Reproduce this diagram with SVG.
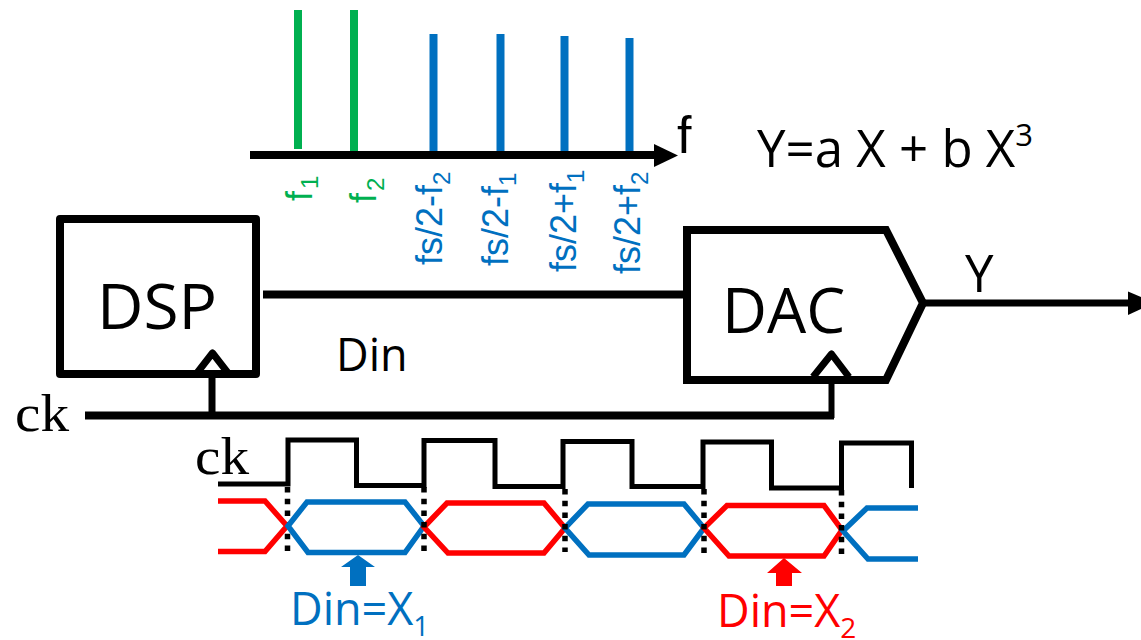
<svg xmlns="http://www.w3.org/2000/svg" width="1141" height="640" viewBox="0 0 1141 640">
<style>
.box{fill:none;stroke:#000;stroke-width:8;stroke-linejoin:round}
.w{fill:none;stroke:#000;stroke-linejoin:miter}
.g{stroke:#00b050;stroke-width:8}
.b{stroke:#0070c0;stroke-width:8}
.blue{fill:none;stroke:#0070c0;stroke-width:5.5}
.red{fill:none;stroke:#ff0000;stroke-width:5.5}
.dot{stroke:#000;stroke-width:5.5;stroke-dasharray:5.5 6.2}
.rl{font-family:"Liberation Sans",Arial,sans-serif;font-size:36px}
.os{font-family:"Open Sans","Noto Sans",sans-serif;fill:#000}
.ser{font-family:"Liberation Serif","Times New Roman",serif;font-size:52px;fill:#000}
</style>
<rect width="1141" height="640" fill="#fff"/>
<g id="spectrum">
<line class="g" x1="298" y1="10" x2="298" y2="149"/>
<line class="g" x1="354" y1="10" x2="354" y2="155"/>
<line class="b" x1="433.500" y1="34" x2="433.500" y2="153"/>
<line class="b" x1="500.500" y1="34" x2="500.500" y2="153.500"/>
<line class="b" x1="564.500" y1="36" x2="564.500" y2="155"/>
<line class="b" x1="629.500" y1="38" x2="629.500" y2="158"/>
<line x1="250" y1="155" x2="656" y2="155" stroke="#000" stroke-width="8"/>
<polygon points="654,144 678,155.500 654,167" fill="#000"/>
<text x="677" y="153" font-family="Liberation Sans,sans-serif" font-size="52" fill="#000">f</text>
<g class="rl" fill="#00b050">
<text transform="translate(312,201) rotate(-90)">f<tspan font-size="24" dy="6" dx="2">1</tspan></text>
<text transform="translate(375.500,203) rotate(-90)">f<tspan font-size="24" dy="8" dx="2">2</tspan></text>
</g>
<g class="rl" fill="#0070c0">
<text transform="translate(442,265) rotate(-90)">fs/2-f<tspan font-size="24" dy="8">2</tspan></text>
<text transform="translate(508,266) rotate(-90)">fs/2-f<tspan font-size="24" dy="8">1</tspan></text>
<text transform="translate(576,272) rotate(-90)">fs/2+f<tspan font-size="24" dy="8">1</tspan></text>
<text transform="translate(639.500,274) rotate(-90)">fs/2+f<tspan font-size="24" dy="8">2</tspan></text>
</g>
</g>
<text id="equation" class="os" x="757" y="167" font-size="51">Y=a X + b X<tspan font-size="31" dy="-21">3</tspan></text>
<g id="connectors">
<line x1="263" y1="294.500" x2="688" y2="294.500" stroke="#000" stroke-width="8"/>
<line x1="85" y1="415.500" x2="834" y2="415.500" stroke="#000" stroke-width="8"/>
<line x1="212" y1="376" x2="212" y2="415" stroke="#000" stroke-width="7"/>
<line x1="831.500" y1="378" x2="831.500" y2="418" stroke="#000" stroke-width="6"/>
<line x1="922" y1="303" x2="1130" y2="303" stroke="#000" stroke-width="7"/>
<polygon points="1128,291.500 1141,297 1141,309 1128,315" fill="#000"/>
</g>
<g id="dsp">
<rect class="box" x="60" y="219" width="196" height="155"/>
<polyline class="box" points="197,373 212.500,353 228,373" style="stroke-width:7"/>
<text class="os" x="97" y="329" font-size="63" textLength="120" lengthAdjust="spacingAndGlyphs">DSP</text>
</g>
<g id="dac">
<polygon class="box" style="stroke-linejoin:miter" points="687,230 886,230 923,303 886,380 687,380"/>
<polyline class="box" points="813,377 831.500,354 849,377" style="stroke-width:7"/>
<text class="os" x="722" y="333" font-size="62">DAC</text>
</g>
<text id="din-label" class="os" x="336" y="371" font-size="45">Din</text>
<text id="y-label" class="os" x="965" y="292" font-size="51">Y</text>
<text id="ck-in" class="ser" x="15" y="431" textLength="54" lengthAdjust="spacingAndGlyphs">ck</text>
<g id="timing">
<text class="ser" x="195" y="474" textLength="54" lengthAdjust="spacingAndGlyphs">ck</text>
<polyline class="w" stroke-width="5" points="218,484 288,484 288,440 356.500,440 356.500,485.500 424,485.500 424,440.500 495,440.500 495,486.500 563,486.500 563,441.500 632,441.500 632,486.500 703,486.500 703,442 771.500,442 771.500,488 841.500,488 841.500,443 911.500,443 911.500,488"/>
<line class="dot" x1="287.500" y1="487" x2="287.500" y2="552"/>
<path class="red" d="M218,501 H265 L287,526 L265,551.500 H218"/>
<polygon class="blue" points="288,526 307,502 405,502 424,526 405,552.500 308,552.500"/>
<polygon class="red" points="424,527 447,503 544,503 565,528 544,553 448,553"/>
<polygon class="blue" points="565,528 588,504 684,504 704,528 684,555 589,555"/>
<polygon class="red" points="704,528 727,505.500 824,505.500 842,530 824,556 729,556"/>
<path class="blue" d="M918,508 H867 L843,531 L868,559 H918"/>
<line class="dot" x1="424" y1="487" x2="424" y2="554"/>
<line class="dot" x1="565" y1="489" x2="565" y2="552"/>
<line class="dot" x1="704" y1="489" x2="704" y2="555"/>
<line class="dot" x1="841.500" y1="490" x2="841.500" y2="556"/>
<polygon points="358,555 375,567 366,567 366,586 350,586 350,567 341,567" fill="#0070c0"/>
<polygon points="784,558 802,573 792,573 792,586 776,586 776,573 767,573" fill="#ff0000"/>
<text class="os" x="290" y="625" font-size="45" style="fill:#0070c0">Din=X<tspan font-size="28" dy="11">1</tspan></text>
<text class="os" x="717" y="627" font-size="45" style="fill:#ff0000">Din=X<tspan font-size="28" dy="11">2</tspan></text>
</g>
</svg>
